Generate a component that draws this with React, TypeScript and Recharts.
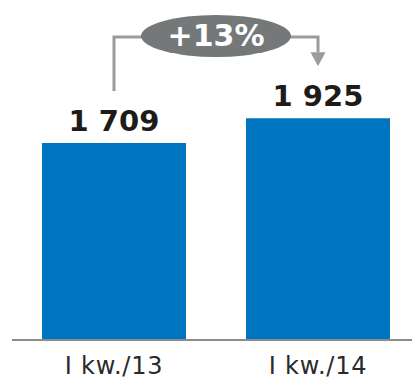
import { BarChart, Bar, XAxis, YAxis, LabelList } from 'recharts';

const quarters = ['I kw./13', 'I kw./14'];
const values = [1709, 1925];

const data = quarters.map((q, i) => ({ name: q, value: values[i] }));

const BAR_COLOR = '#0075bf';
const LINE_COLOR = '#9b9b9b';
const FONT = '"DejaVu Sans", Verdana, sans-serif';

const fmt = (v: number) => String(v).replace(/\B(?=(\d{3})+(?!\d))/g, ' ');
const change = Math.round((values[1] / values[0] - 1) * 100);

// bar centres collected while the labels are drawn, used by the arrow
const centers: number[] = [];

function ValueLabel(props: any) {
  const { x, y, width, value, index } = props;
  const cx = x + width / 2;
  centers[index] = cx;
  const end = y - 52;
  const level = 37;
  let extra = null;
  if (index === 0) {
    extra = (
      <polyline
        points={`${cx},${end} ${cx},${level} ${cx + 32},${level}`}
        fill="none"
        stroke={LINE_COLOR}
        strokeWidth={3}
      />
    );
  }
  if (index === 1 && centers[0] !== undefined) {
    const mid = (centers[0] + cx) / 2;
    extra = (
      <g>
        <polyline
          points={`${mid + 70},${level} ${cx},${level} ${cx},${end - 14}`}
          fill="none"
          stroke={LINE_COLOR}
          strokeWidth={3}
        />
        <polygon
          points={`${cx - 7.5},${end - 14} ${cx + 7.5},${end - 14} ${cx},${end}`}
          fill={LINE_COLOR}
        />
        <ellipse cx={mid} cy={36} rx={75} ry={21} fill="#747878" />
        <text
          x={mid}
          y={46}
          textAnchor="middle"
          fill="#fff"
          fontFamily={FONT}
          fontWeight="bold"
          fontSize={30}
        >
          {`+${change}%`}
        </text>
      </g>
    );
  }
  return (
    <g>
      {extra}
      <text
        x={cx}
        y={y - 12}
        textAnchor="middle"
        fill="#1e1b18"
        fontFamily={FONT}
        fontWeight="bold"
        fontSize={29}
      >
        {fmt(value)}
      </text>
    </g>
  );
}

function QuarterTick(props: any) {
  const { x, y, payload } = props;
  return (
    <text
      x={x}
      y={y + 34}
      textAnchor="middle"
      fill="#2a2a2a"
      fontFamily={FONT}
      fontSize={24}
      style={{ letterSpacing: '0.8px' }}
    >
      {payload.value}
    </text>
  );
}

export default function App() {
  return (
    <div
      style={{
        position: 'absolute',
        left: 0,
        top: 0,
        width: 412,
        height: 387,
        overflow: 'hidden',
        background: '#fff',
      }}
    >
      <BarChart
        width={420}
        height={387}
        data={data}
        margin={{ top: 52, right: 0, bottom: 0, left: 12 }}
      >
        <XAxis
          dataKey="name"
          height={47}
          tickLine={false}
          tickSize={0}
          tickMargin={0}
          axisLine={{ stroke: '#8c8c8c', strokeWidth: 2 }}
          tick={<QuarterTick />}
        />
        <YAxis hide domain={[0, 2500]} />
        <Bar dataKey="value" fill={BAR_COLOR} barSize={144} isAnimationActive={false}>
          <LabelList dataKey="value" content={<ValueLabel />} />
        </Bar>
      </BarChart>
    </div>
  );
}
